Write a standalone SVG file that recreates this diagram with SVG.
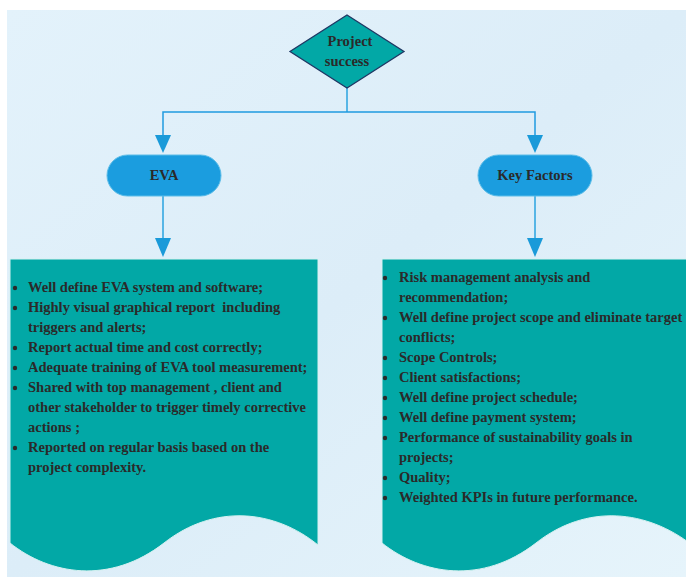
<svg xmlns="http://www.w3.org/2000/svg" width="686" height="578" viewBox="0 0 686 578">
<defs>
<linearGradient id="bg" x1="0" y1="0" x2="1" y2="1">
<stop offset="0" stop-color="#e3f2fb"/>
<stop offset="0.5" stop-color="#dcedf8"/>
<stop offset="1" stop-color="#e6f4fb"/>
</linearGradient>
<style>
.t{font-family:"Liberation Serif","Times New Roman",serif;font-weight:bold;font-size:14.5px;fill:#2a2a2a;white-space:pre}
.c{text-anchor:middle}
.pill{fill:#1b9ddf;stroke:#5cbde8;stroke-width:1}
.box{fill:#02a8a6;stroke:#d6f1f1;stroke-width:1}
.ln{fill:none;stroke:#57b6e6;stroke-width:2}
.hl{fill:none;stroke:#1f9be0;stroke-width:1.5}
.ah{fill:#1a9ad9}
.b{fill:#2a2a2a}
</style>
</defs>
<rect width="686" height="578" fill="#ffffff"/>
<rect x="7" y="10" width="679" height="567" fill="url(#bg)"/>
<g id="connectors">
<line class="ln" x1="347" y1="88" x2="347" y2="112"/>
<polyline class="hl" points="163,136 163,112 535,112 535,136"/>
<polygon class="ah" points="155,135 171,135 163,153"/>
<polygon class="ah" points="527,135 543,135 535,153"/>
<line class="ln" x1="163" y1="196" x2="163" y2="239"/>
<line class="ln" x1="535" y1="196" x2="535" y2="239"/>
<polygon class="ah" points="155,238 171,238 163,257"/>
<polygon class="ah" points="527,238 543,238 535,257"/>
</g>
<g id="project-success">
<polygon points="347,15 404,51.5 347,88 290,51.5" fill="#02a8a6" stroke="#1f3864" stroke-width="1.3"/>
<text class="t c" x="350" y="46">Project</text>
<text class="t c" x="347" y="66">success</text>
</g>
<g id="eva">
<rect class="pill" x="107" y="155" width="114" height="41" rx="20.5"/>
<text class="t c" x="164" y="180">EVA</text>
</g>
<g id="key-factors">
<rect class="pill" x="478" y="155" width="114" height="41" rx="20.5"/>
<text class="t c" x="535" y="180">Key Factors</text>
</g>
<g id="eva-list">
<path class="box" d="M10,259 H318 V545 C275,510 215,503 164,543 C110,585 50,575 10,543 Z"/>
<g class="b">
<circle cx="15" cy="288" r="2.2"/>
<circle cx="15" cy="308" r="2.2"/>
<circle cx="15" cy="348" r="2.2"/>
<circle cx="15" cy="368" r="2.2"/>
<circle cx="15" cy="388" r="2.2"/>
<circle cx="15" cy="448" r="2.2"/>
</g>
<text class="t" x="28" y="292">Well define EVA system and software;</text>
<text class="t" x="28" y="312">Highly visual graphical report  including</text>
<text class="t" x="28" y="332">triggers and alerts;</text>
<text class="t" x="28" y="352">Report actual time and cost correctly;</text>
<text class="t" x="28" y="372">Adequate training of EVA tool measurement;</text>
<text class="t" x="28" y="392">Shared with top management , client and</text>
<text class="t" x="28" y="412">other stakeholder to trigger timely corrective</text>
<text class="t" x="28" y="432">actions ;</text>
<text class="t" x="28" y="452">Reported on regular basis based on the</text>
<text class="t" x="28" y="472">project complexity.</text>
</g>
<g id="key-factors-list">
<path class="box" d="M382,259 H692 V545 C647,510 587,503 536,543 C482,585 422,575 382,543 Z"/>
<g class="b">
<circle cx="385" cy="278" r="2.2"/>
<circle cx="385" cy="318" r="2.2"/>
<circle cx="385" cy="358" r="2.2"/>
<circle cx="385" cy="378" r="2.2"/>
<circle cx="385" cy="398" r="2.2"/>
<circle cx="385" cy="418" r="2.2"/>
<circle cx="385" cy="438" r="2.2"/>
<circle cx="385" cy="478" r="2.2"/>
<circle cx="385" cy="498" r="2.2"/>
</g>
<text class="t" x="399" y="282">Risk management analysis and</text>
<text class="t" x="399" y="302">recommendation;</text>
<text class="t" x="399" y="322">Well define project scope and eliminate target</text>
<text class="t" x="399" y="342">conflicts;</text>
<text class="t" x="399" y="362">Scope Controls;</text>
<text class="t" x="399" y="382">Client satisfactions;</text>
<text class="t" x="399" y="402">Well define project schedule;</text>
<text class="t" x="399" y="422">Well define payment system;</text>
<text class="t" x="399" y="442">Performance of sustainability goals in</text>
<text class="t" x="399" y="462">projects;</text>
<text class="t" x="399" y="482">Quality;</text>
<text class="t" x="399" y="502">Weighted KPIs in future performance.</text>
</g>
</svg>
